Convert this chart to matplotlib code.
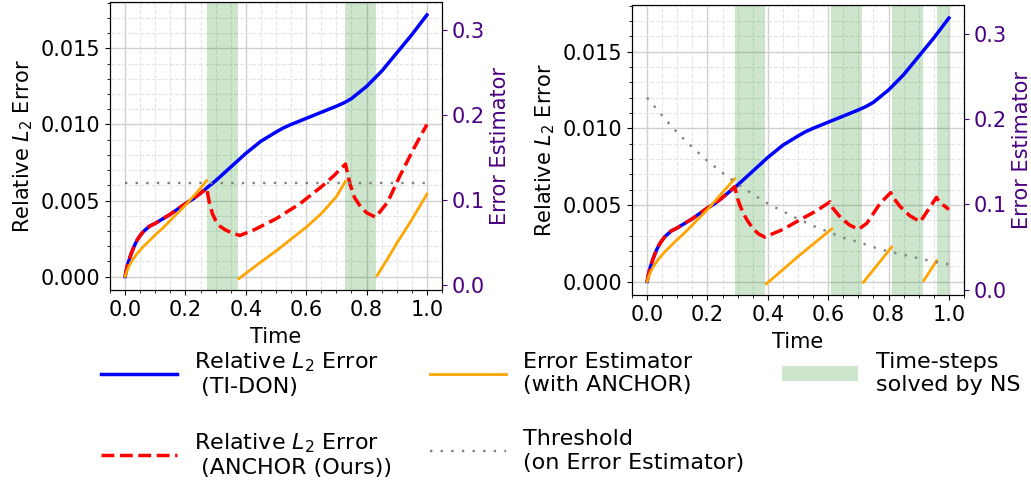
import matplotlib.pyplot as plt
from matplotlib.ticker import MultipleLocator

# time axis shared by the TI-DON curve (same in both panels)
t_blue = [0, 0.005, 0.01, 0.02, 0.03, 0.04, 0.05, 0.06, 0.08, 0.1, 0.125, 0.15, 0.175,
          0.2, 0.225, 0.25, 0.275, 0.3, 0.325, 0.35, 0.375, 0.4, 0.425, 0.45, 0.475,
          0.5, 0.525, 0.55, 0.575, 0.6, 0.625, 0.65, 0.675, 0.7, 0.725, 0.75, 0.775,
          0.8, 0.825, 0.85, 0.875, 0.9, 0.925, 0.95, 0.975, 1.0]
err_tidon = [0, 0.0005, 0.0009, 0.0015, 0.0020, 0.0024, 0.0027, 0.00295, 0.0033,
             0.0035, 0.0038, 0.0041, 0.00445, 0.0048, 0.0051, 0.00548, 0.0059, 0.0063,
             0.00675, 0.0072, 0.00765, 0.0081, 0.0085, 0.0089, 0.0092, 0.0095, 0.00978,
             0.0100, 0.0102, 0.0104, 0.0106, 0.0108, 0.0110, 0.0112, 0.01142, 0.0117,
             0.0121, 0.0125, 0.0130, 0.0135, 0.0141, 0.0147, 0.0153, 0.0159, 0.01655,
             0.0172]

# left panel: constant threshold
t_red_left = [0, 0.005, 0.01, 0.02, 0.03, 0.04, 0.05, 0.06, 0.08, 0.1, 0.125, 0.15,
              0.175, 0.2, 0.225, 0.25, 0.27, 0.275, 0.28, 0.29, 0.3, 0.315, 0.33, 0.35,
              0.38, 0.43, 0.5, 0.58, 0.65, 0.69, 0.73, 0.737, 0.745, 0.76, 0.78, 0.8,
              0.83, 0.87, 0.91, 0.956, 1.0]
err_anchor_left = [0, 0.0005, 0.0009, 0.0015, 0.0020, 0.0024, 0.0027, 0.00295, 0.0033,
                   0.0035, 0.0038, 0.0041, 0.00445, 0.0048, 0.0051, 0.00548, 0.0058,
                   0.0053, 0.0048, 0.0041, 0.0037, 0.0033, 0.0031, 0.0029, 0.0027,
                   0.0031, 0.0038, 0.0048, 0.0059, 0.0066, 0.0074, 0.0068, 0.0061,
                   0.0052, 0.0046, 0.0042, 0.0039, 0.0049, 0.0066, 0.0084, 0.0100]
est_left_t = [[0, 0.01, 0.02, 0.04, 0.06, 0.08, 0.1, 0.125, 0.15, 0.175, 0.2, 0.225,
               0.25, 0.27],
              [0.377, 0.45, 0.5, 0.55, 0.6, 0.65, 0.7, 0.73],
              [0.835, 0.87, 0.9, 0.95, 1.0]]
est_left = [[0.01, 0.02, 0.027, 0.037, 0.045, 0.052, 0.059, 0.067, 0.076, 0.085, 0.094,
             0.104, 0.114, 0.123],
            [0.0075, 0.027, 0.040, 0.054, 0.068, 0.084, 0.104, 0.122],
            [0.011, 0.031, 0.049, 0.077, 0.107]]
thr_left_t = [0, 1.0]
thr_left = [0.12, 0.12]
ns_left = [(0.27, 0.375), (0.73, 0.832)]

# right panel: decaying threshold
t_red_right = [0, 0.005, 0.01, 0.02, 0.03, 0.04, 0.05, 0.06, 0.08, 0.1, 0.125, 0.15,
               0.175, 0.2, 0.225, 0.25, 0.275, 0.29, 0.3, 0.309, 0.32, 0.335, 0.353,
               0.37, 0.39, 0.45, 0.513, 0.56, 0.606, 0.615, 0.64, 0.67, 0.70, 0.728,
               0.772, 0.807, 0.815, 0.838, 0.87, 0.905, 0.959, 0.968, 1.0]
err_anchor_right = [0, 0.0005, 0.0009, 0.0015, 0.0020, 0.0024, 0.0027, 0.00295,
                    0.0033, 0.0035, 0.0038, 0.0041, 0.00445, 0.0048, 0.0051, 0.00548,
                    0.0059, 0.0062, 0.0054, 0.0049, 0.0044, 0.0039, 0.0034, 0.0031,
                    0.0029, 0.0034, 0.0041, 0.0046, 0.0052, 0.0048, 0.0042, 0.0037,
                    0.0034, 0.0038, 0.0051, 0.0058, 0.0055, 0.0049, 0.0043, 0.0039,
                    0.0055, 0.0052, 0.0047]
est_right_t = [[0, 0.01, 0.02, 0.04, 0.06, 0.08, 0.1, 0.125, 0.15, 0.175, 0.2, 0.225,
                0.25, 0.27, 0.29],
               [0.395, 0.5, 0.612],
               [0.717, 0.81],
               [0.917, 0.959]]
est_right = [[0.01, 0.02, 0.027, 0.037, 0.045, 0.052, 0.059, 0.067, 0.076, 0.085, 0.094,
              0.104, 0.114, 0.122, 0.130],
             [0.007, 0.039, 0.0715],
             [0.009, 0.050],
             [0.011, 0.034]]
thr_right_t = [0, 0.05, 0.1, 0.15, 0.2, 0.25, 0.3, 0.35, 0.4, 0.45, 0.5, 0.55, 0.6,
               0.65, 0.7, 0.75, 0.8, 0.85, 0.9, 0.95, 1.0]
thr_right = [0.225, 0.204, 0.184, 0.167, 0.151, 0.137, 0.124, 0.112, 0.101, 0.092,
             0.083, 0.075, 0.068, 0.061, 0.056, 0.050, 0.045, 0.041, 0.037, 0.033, 0.030]
ns_right = [(0.29, 0.392), (0.61, 0.711), (0.812, 0.913), (0.961, 1.0)]

W, H = 1031, 482
fig = plt.figure(figsize=(W / 100, H / 100), dpi=100)


def draw_panel(rect, t_red, err_anchor, est_t, est, thr_t, thr, spans):
    ax = fig.add_axes(rect)
    for a, b in spans:
        span = ax.axvspan(a, b, color='green', alpha=0.2, lw=0)
    blue, = ax.plot(t_blue, err_tidon, color='blue', lw=2.5)
    red, = ax.plot(t_red, err_anchor, color='red', ls='--', lw=2.5)
    ax.set_xlim(-0.05, 1.05)
    ax.set_ylim(-0.00088, 0.01805)
    ax.set_xticks([0, 0.2, 0.4, 0.6, 0.8, 1.0])
    ax.set_yticks([0, 0.005, 0.010, 0.015])
    ax.xaxis.set_minor_locator(MultipleLocator(0.05))
    ax.yaxis.set_minor_locator(MultipleLocator(0.001))
    ax.grid(which='major', color='#d0d0d0', lw=1)
    ax.grid(which='minor', color='#e4e4e4', ls='--', lw=0.8)
    ax.set_axisbelow(True)
    ax.tick_params(labelsize=15)
    ax.set_xlabel('Time', fontsize=15, labelpad=5)
    ax.set_ylabel('Relative $L_2$ Error', fontsize=15)

    ax2 = ax.twinx()
    for tt, vv in zip(est_t, est):
        orange, = ax2.plot(tt, vv, color='orange', lw=2)
    thrline, = ax2.plot(thr_t, thr, color='gray', ls=(0, (1, 3.5)), lw=1.7)
    ax2.set_ylim(-0.006, 0.3335)
    ax2.set_yticks([0, 0.1, 0.2, 0.3])
    ax2.tick_params(axis='y', colors='indigo', labelsize=15)
    ax2.set_ylabel('Error Estimator', color='indigo', fontsize=15)
    return [blue, red, orange, thrline, span]


handles = draw_panel([110 / W, 1 - 290 / H, 332 / W, 288 / H], t_red_left,
                     err_anchor_left, est_left_t, est_left, thr_left_t, thr_left, ns_left)
draw_panel([632 / W, 1 - 295 / H, 332 / W, 290 / H], t_red_right,
           err_anchor_right, est_right_t, est_right, thr_right_t, thr_right, ns_right)

labels = ['Relative $L_2$ Error\n (TI-DON)', 'Relative $L_2$ Error\n (ANCHOR (Ours))',
          'Error Estimator\n(with ANCHOR)', 'Threshold\n(on Error Estimator)',
          'Time-steps\nsolved by NS']
fig.legend(handles, labels, ncol=3, loc='upper left',
           bbox_to_anchor=(101 / W, 1 - 350 / H), frameon=False, fontsize=16,
           handlelength=3.4, handletextpad=0.8, columnspacing=1.7,
           labelspacing=1.55, borderpad=0, borderaxespad=0)

fig.savefig('out.png', dpi=100)
